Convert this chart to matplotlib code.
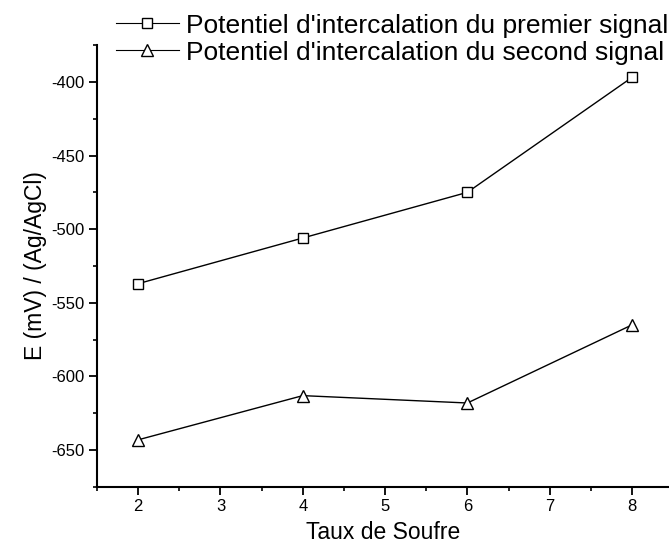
import matplotlib

matplotlib.use("Agg")
import matplotlib.pyplot as plt
from matplotlib.ticker import MultipleLocator

plt.rcParams["font.family"] = ["Liberation Sans", "DejaVu Sans"]
plt.rcParams["axes.unicode_minus"] = False

taux = [2, 4, 6, 8]
premier = [-537, -506, -475, -397]
second = [-643, -613, -618, -565]

fig = plt.figure(figsize=(6.69, 5.49), dpi=100)
ax = fig.add_axes([0.145, 0.113, 0.855, 0.805])

l1, = ax.plot(taux, premier, "-", color="black", lw=1.0, marker="s", ms=6.5,
              mfc="white", mec="black", mew=1.0)
l2, = ax.plot(taux, second, "-", color="black", lw=1.0, marker="^", ms=8,
              mfc="white", mec="black", mew=1.0)

ax.set_xlim(1.5, 8.45)
ax.set_ylim(-675, -375)
ax.xaxis.set_major_locator(MultipleLocator(1))
ax.xaxis.set_minor_locator(MultipleLocator(0.5))
ax.yaxis.set_major_locator(MultipleLocator(50))
ax.yaxis.set_minor_locator(MultipleLocator(25))
ax.spines["top"].set_visible(False)
ax.spines["right"].set_visible(False)
for s in ("left", "bottom"):
    ax.spines[s].set_linewidth(1.5)
ax.tick_params(which="major", direction="out", length=6, width=1.3, labelsize=12, pad=3)
ax.tick_params(which="minor", direction="out", length=3, width=1.2)

ax.set_xlabel("Taux de Soufre", fontsize=16.5, labelpad=5)
ax.set_ylabel("E (mV) / (Ag/AgCl)", fontsize=16.5, labelpad=3)

fig.legend([l1, l2],
           ["Potentiel d'intercalation du premier signal",
            "Potentiel d'intercalation du second signal"],
           loc="upper left", bbox_to_anchor=(0.165, 0.985), frameon=False,
           fontsize=19, handlelength=2.4, handletextpad=0.27, labelspacing=0.12,
           borderaxespad=0.0, borderpad=0.2)
for line in fig.legends[0].get_lines():
    line.set_linewidth(0.8)

fig.savefig("out.png", dpi=100)
